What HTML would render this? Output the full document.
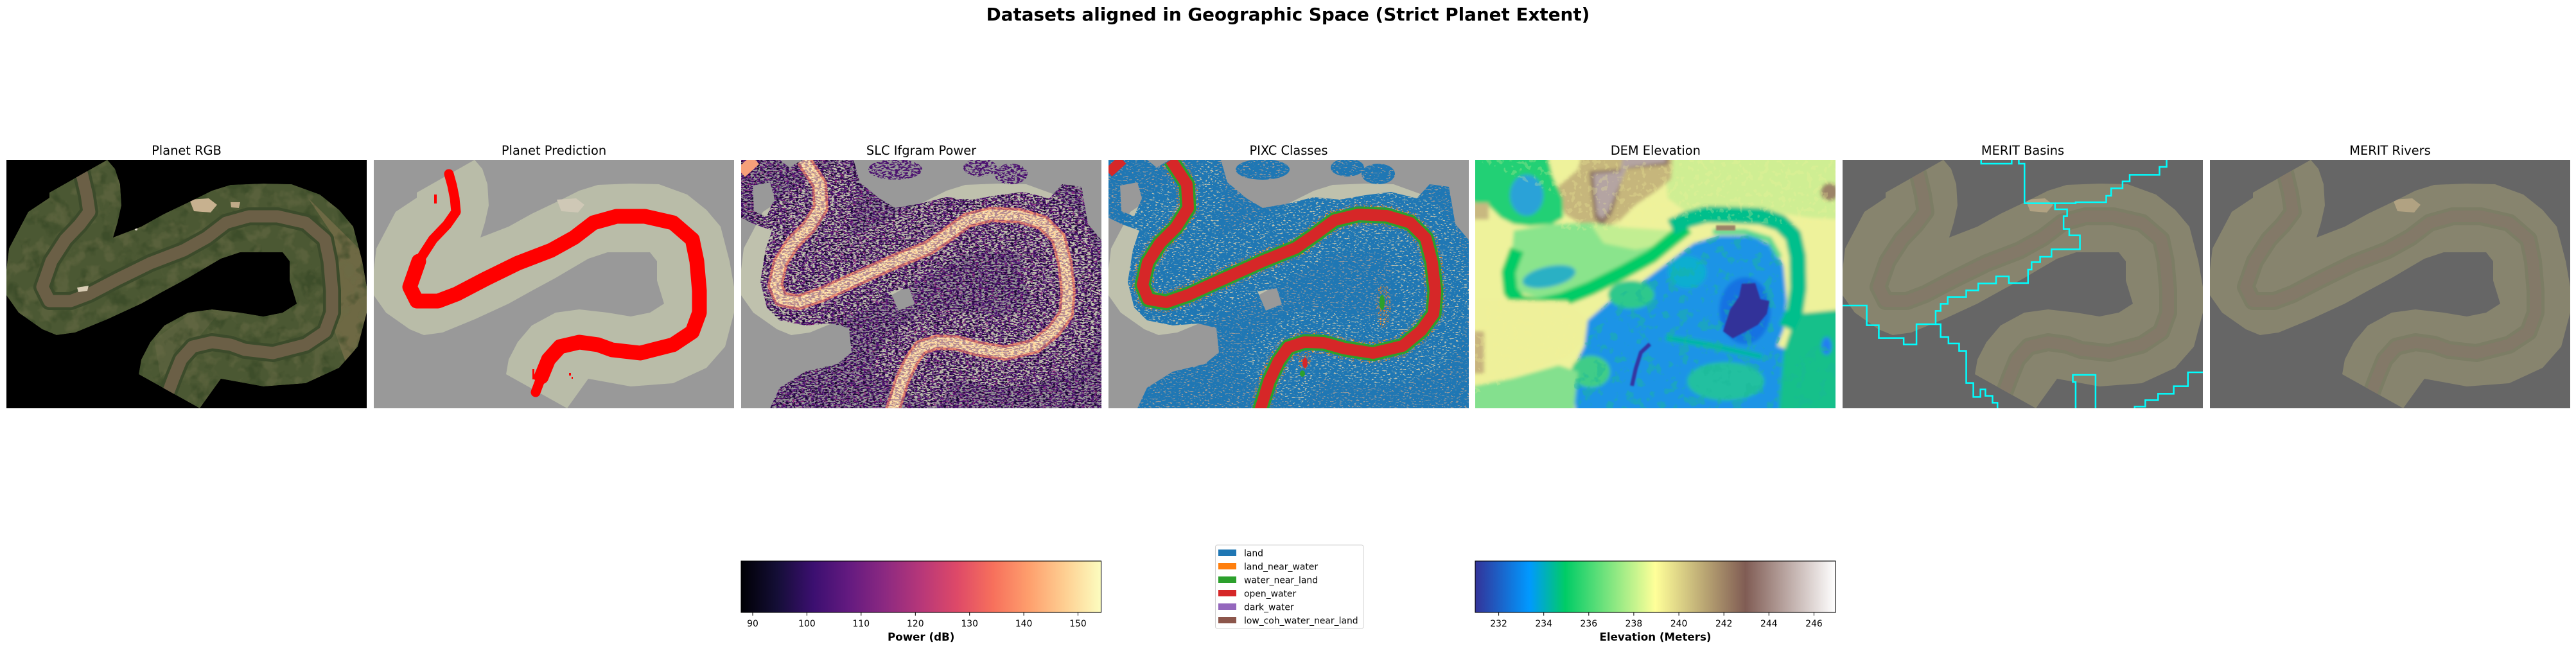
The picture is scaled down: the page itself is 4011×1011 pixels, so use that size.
<!DOCTYPE html>
<html>
<head>
<meta charset="utf-8">
<style>
html,body{margin:0;padding:0;background:#fff;}
svg{display:block}
</style>
</head>
<body>
<svg xmlns="http://www.w3.org/2000/svg" width="4011" height="1011" viewBox="0 0 4011 1011" font-family="'DejaVu Sans', 'Liberation Sans', sans-serif">
<defs>
  <clipPath id="pc"><rect x="0" y="0" width="561" height="387"/></clipPath>
  <clipPath id="fpc"><path d="M157,0 L169,14 L177,38 L179,71 L173,98 L166,121 L210,104 L246,84 L290,63 L320,48 L349,39 L400,37 L444,38 L488,54 L518,78 L540,104 L554,158 L561,198 L561,238 L547,291 L518,324 L466,348 L400,353 L334,341 L301,387 L206,334 L210,311 L224,284 L246,258 L283,238 L320,233 L364,238 L400,244 L430,238 L452,224 L441,188 L441,158 L430,144 L400,144 L364,144 L334,154 L305,171 L283,184 L246,204 L210,224 L158,248 L107,269 L78,273 L56,264 L19,238 L0,211 L0,171 L4,138 L34,81 L67,59 L67,51 Z"/></clipPath>
  <path id="fp" d="M157,0 L169,14 L177,38 L179,71 L173,98 L166,121 L210,104 L246,84 L290,63 L320,48 L349,39 L400,37 L444,38 L488,54 L518,78 L540,104 L554,158 L561,198 L561,238 L547,291 L518,324 L466,348 L400,353 L334,341 L301,387 L206,334 L210,311 L224,284 L246,258 L283,238 L320,233 L364,238 L400,244 L430,238 L452,224 L441,188 L441,158 L430,144 L400,144 L364,144 L334,154 L305,171 L283,184 L246,204 L210,224 L158,248 L107,269 L78,273 L56,264 L19,238 L0,211 L0,171 L4,138 L34,81 L67,59 L67,51 Z"/>
  <path id="rA" fill="none" d="M113,6 L118,24 L125,54 L129,81 L114,101 L92,124 L70,158 L56,198 L67,220 L100,220 L129,209 L173,186 L224,161 L276,141 L312,121 L342,98 L378,88 L422,88 L466,98 L496,124 L503,158 L507,204 L507,238 L496,268 L466,288 L415,301 L371,296 L349,288 L320,284 L290,291 L272,311 L261,338 L252,362"/>
  <path id="rB" fill="none" d="M97,0 L122,38 L124,75 L105,105 L80,130 L61,160 L53,195 L62,217 L90,222 L125,210 L180,185 L240,158 L292,137 L322,116 L352,94 L389,85 L433,87 L470,98 L494,122 L504,160 L509,205 L506,240 L487,266 L458,290 L412,301 L367,294 L335,285 L305,284 L280,292 L265,313 L250,345 L236,390"/>
  <path id="cov" fill-rule="evenodd" d="M0,0 L60,0 L75,12 L95,0 L175,0 L185,35 L215,60 L240,75 L280,68 L320,58 L360,62 L400,55 L440,50 L480,60 L500,38 L530,42 L540,100 L561,125 L561,387 L45,387 L60,355 L100,330 L150,318 L172,300 L168,262 L140,255 L100,258 L60,250 L40,230 L30,190 L38,140 L48,110 L20,100 L0,90 Z M18,40 L45,35 L52,60 L40,88 L20,80 Z M232,205 L262,200 L270,225 L245,235 Z"/>

  <linearGradient id="magma" x1="0" y1="0" x2="1" y2="0">
    <stop offset="0" stop-color="#000004"/>
    <stop offset="0.1" stop-color="#140e36"/>
    <stop offset="0.2" stop-color="#3b0f70"/>
    <stop offset="0.3" stop-color="#641a80"/>
    <stop offset="0.4" stop-color="#8c2981"/>
    <stop offset="0.5" stop-color="#b73779"/>
    <stop offset="0.6" stop-color="#de4968"/>
    <stop offset="0.7" stop-color="#f7705c"/>
    <stop offset="0.8" stop-color="#fe9f6d"/>
    <stop offset="0.9" stop-color="#fecf92"/>
    <stop offset="1" stop-color="#fcfdbf"/>
  </linearGradient>
  <linearGradient id="terrain" x1="0" y1="0" x2="1" y2="0">
    <stop offset="0" stop-color="#333399"/>
    <stop offset="0.15" stop-color="#0099ff"/>
    <stop offset="0.25" stop-color="#00cc66"/>
    <stop offset="0.5" stop-color="#ffff99"/>
    <stop offset="0.75" stop-color="#805c54"/>
    <stop offset="1" stop-color="#ffffff"/>
  </linearGradient>

  <filter id="spkP" filterUnits="userSpaceOnUse" x="0" y="0" width="561" height="387" color-interpolation-filters="sRGB">
    <feTurbulence type="fractalNoise" baseFrequency="0.2 0.45" numOctaves="2" seed="5" result="n"/>
    <feColorMatrix in="n" type="matrix" values="0 0 0 0 0.30  0 0 0 0 0.07  0 0 0 0 0.44  18 0 0 0 -8.6"/>
    <feComposite in2="SourceAlpha" operator="in"/>
  </filter>
  <filter id="spkM" filterUnits="userSpaceOnUse" x="0" y="0" width="561" height="387" color-interpolation-filters="sRGB">
    <feTurbulence type="fractalNoise" baseFrequency="0.2 0.45" numOctaves="2" seed="11" result="n"/>
    <feColorMatrix in="n" type="matrix" values="0 0 0 0 0.58  0 0 0 0 0.16  0 0 0 0 0.5  18 0 0 0 -11.9"/>
    <feComposite in2="SourceAlpha" operator="in"/>
  </filter>
  <filter id="spkK" filterUnits="userSpaceOnUse" x="0" y="0" width="561" height="387" color-interpolation-filters="sRGB">
    <feTurbulence type="fractalNoise" baseFrequency="0.2 0.45" numOctaves="2" seed="23" result="n"/>
    <feColorMatrix in="n" type="matrix" values="0 0 0 0 0.1  0 0 0 0 0.03  0 0 0 0 0.2  18 0 0 0 -10.3"/>
    <feComposite in2="SourceAlpha" operator="in"/>
  </filter>
  <filter id="spkB" filterUnits="userSpaceOnUse" x="0" y="0" width="561" height="387" color-interpolation-filters="sRGB">
    <feTurbulence type="fractalNoise" baseFrequency="0.22 0.5" numOctaves="2" seed="7" result="n"/>
    <feColorMatrix in="n" type="matrix" values="0 0 0 0 0.122  0 0 0 0 0.467  0 0 0 0 0.706  18 0 0 0 -5.9"/>
    <feComposite in2="SourceAlpha" operator="in"/>
  </filter>
  <filter id="spkO" filterUnits="userSpaceOnUse" x="0" y="0" width="561" height="387" color-interpolation-filters="sRGB">
    <feTurbulence type="fractalNoise" baseFrequency="0.35 0.7" numOctaves="2" seed="17" result="n"/>
    <feColorMatrix in="n" type="matrix" values="0 0 0 0 1  0 0 0 0 0.5  0 0 0 0 0.055  16 0 0 0 -9.4"/>
    <feComposite in2="SourceAlpha" operator="in"/>
  </filter>
  <filter id="spkY" filterUnits="userSpaceOnUse" x="0" y="0" width="561" height="387" color-interpolation-filters="sRGB">
    <feTurbulence type="fractalNoise" baseFrequency="0.35 0.7" numOctaves="2" seed="31" result="n"/>
    <feColorMatrix in="n" type="matrix" values="0 0 0 0 0.99  0 0 0 0 0.96  0 0 0 0 0.75  16 0 0 0 -8.4"/>
    <feComposite in2="SourceAlpha" operator="in"/>
  </filter>
  <filter id="spkD" filterUnits="userSpaceOnUse" x="0" y="0" width="561" height="387" color-interpolation-filters="sRGB">
    <feTurbulence type="fractalNoise" baseFrequency="0.12 0.12" numOctaves="2" seed="41" result="n"/>
    <feColorMatrix in="n" type="matrix" values="0 0 0 0 0.95  0 0 0 0 0.95  0 0 0 0 0.6  14 0 0 0 -8"/>
    <feComposite in2="SourceAlpha" operator="in"/>
  </filter>
  <filter id="spkG" filterUnits="userSpaceOnUse" x="0" y="0" width="561" height="387" color-interpolation-filters="sRGB">
    <feTurbulence type="fractalNoise" baseFrequency="0.06 0.06" numOctaves="3" seed="51" result="n"/>
    <feColorMatrix in="n" type="matrix" values="0 0 0 0 0.1  0 0 0 0 0.72  0 0 0 0 0.6  8 0 0 0 -4.4"/>
    <feComposite in2="SourceAlpha" operator="in"/>
  </filter>
  <filter id="motD" filterUnits="userSpaceOnUse" x="0" y="0" width="561" height="387" color-interpolation-filters="sRGB">
    <feTurbulence type="fractalNoise" baseFrequency="0.035" numOctaves="3" seed="2" result="n"/>
    <feColorMatrix in="n" type="matrix" values="0 0 0 0 0.2  0 0 0 0 0.27  0 0 0 0 0.14  5 0 0 0 -2.7"/>
    <feComposite in2="SourceAlpha" operator="in"/>
  </filter>
  <filter id="motL" filterUnits="userSpaceOnUse" x="0" y="0" width="561" height="387" color-interpolation-filters="sRGB">
    <feTurbulence type="fractalNoise" baseFrequency="0.04" numOctaves="3" seed="9" result="n"/>
    <feColorMatrix in="n" type="matrix" values="0 0 0 0 0.42  0 0 0 0 0.43  0 0 0 0 0.28  5 0 0 0 -2.5"/>
    <feComposite in2="SourceAlpha" operator="in"/>
  </filter>
  <filter id="blr" filterUnits="userSpaceOnUse" x="-40" y="-40" width="641" height="467">
    <feGaussianBlur stdDeviation="3"/>
  </filter>
  <filter id="blr1" filterUnits="userSpaceOnUse" x="-40" y="-40" width="641" height="467">
    <feGaussianBlur stdDeviation="1"/>
  </filter>
</defs>

<rect x="0" y="0" width="4011" height="1011" fill="#ffffff"/>

<!-- Suptitle -->
<text x="2005.5" y="32" font-size="27.8" font-weight="bold" text-anchor="middle" fill="#000">Datasets aligned in Geographic Space (Strict Planet Extent)</text>

<!-- Panel titles -->
<g font-size="19.4" text-anchor="middle" fill="#000">
  <text x="290.5" y="241">Planet RGB</text>
  <text x="862.5" y="241">Planet Prediction</text>
  <text x="1434.5" y="241">SLC Ifgram Power</text>
  <text x="2006.5" y="241">PIXC Classes</text>
  <text x="2577.8" y="241">DEM Elevation</text>
  <text x="3149.5" y="241">MERIT Basins</text>
  <text x="3721.5" y="241">MERIT Rivers</text>
</g>

<!-- Panel 1: Planet RGB -->
<g transform="translate(10,249)" clip-path="url(#pc)">
  <rect width="561" height="387" fill="#000"/>
  <g clip-path="url(#fpc)">
    <use href="#fp" fill="#4b5833"/>
    <path d="M470,60 L561,150 L561,260 L530,320 L505,250 L510,120 Z" fill="#746c48" opacity="0.85"/>
    <path d="M230,280 L300,230 L330,240 L280,300 L240,340 Z" fill="#5e6440" opacity="0.7"/>
    <use href="#fp" fill="#000" filter="url(#motD)" opacity="0.55"/>
    <use href="#fp" fill="#000" filter="url(#motL)" opacity="0.45"/>
    <use href="#rA" stroke="#3c4b2b" stroke-width="28" stroke-linejoin="round" stroke-linecap="round"/>
    <use href="#rA" stroke="#6b5f46" stroke-width="19" stroke-linejoin="round" stroke-linecap="round"/>
    <path d="M285,62 L315,60 L328,70 L318,82 L292,80 Z" fill="#c7b18f"/>
    <path d="M349,66 L364,66 L362,75 L350,74 Z" fill="#c0aa88"/>
    <path d="M110,199 L128,196 L126,204 L112,206 Z" fill="#d8ccb4"/>
    <circle cx="202" cy="108" r="2" fill="#e0d8c8"/>
  </g>
</g>

<!-- Panel 2: Planet Prediction -->
<g transform="translate(582,249)" clip-path="url(#pc)">
  <rect width="561" height="387" fill="#999999"/>
  <use href="#fp" fill="#b9bca8"/>
  <path d="M285,62 L315,60 L328,70 L318,82 L292,80 Z" fill="#cfc8b6"/>
  <path d="M117,22 L122,40 L126,60 L128,81 L114,101 L92,124 L70,158" fill="none" stroke="#ff0000" stroke-width="15" stroke-linejoin="round" stroke-linecap="round"/>
  <path d="M70,158 L56,198 L67,220 L100,220 L129,209 L173,186 L224,161 L276,141 L312,121 L342,98 L378,88 L422,88 L466,98 L496,124 L503,158 L507,204 L507,238 L496,268 L466,288 L415,301 L371,296 L349,288 L320,284 L290,291 L272,311 L261,338" fill="none" stroke="#ff0000" stroke-width="23" stroke-linejoin="round" stroke-linecap="round"/>
  <path d="M261,338 L252,362" fill="none" stroke="#ff0000" stroke-width="15" stroke-linecap="round"/>
  <rect x="94" y="54" width="4" height="14" fill="#ff0000"/>
  <rect x="247" y="326" width="3" height="16" fill="#ff0000"/>
  <rect x="304" y="332" width="3" height="4" fill="#ff0000"/>
  <rect x="308" y="338" width="2" height="3" fill="#ff0000"/>
</g>

<!-- Panel 3: SLC Ifgram Power -->
<g transform="translate(1154,249)" clip-path="url(#pc)">
  <rect width="561" height="387" fill="#999999"/>
  <use href="#fp" fill="#bfc1ad"/>
  <g filter="url(#spkP)">
    <use href="#cov" fill="#000"/>
    <ellipse cx="240" cy="15" rx="42" ry="16" fill="#000"/>
    <ellipse cx="372" cy="12" rx="26" ry="14" fill="#000"/>
    <ellipse cx="420" cy="22" rx="26" ry="16" fill="#000"/>
  </g>
  <g filter="url(#spkK)">
    <use href="#cov" fill="#000"/>
  </g>
  <g filter="url(#spkM)">
    <use href="#cov" fill="#000"/>
    <ellipse cx="430" cy="228" rx="22" ry="38" fill="#000"/>
    <ellipse cx="430" cy="228" rx="14" ry="28" fill="#000"/>
  </g>
  <use href="#rB" stroke="#f28a6c" stroke-width="24" stroke-linejoin="round" opacity="0.9"/>
  <use href="#rB" stroke="#fdd29c" stroke-width="16" stroke-linejoin="round"/>
  <path d="M0,20 L22,0" stroke="#f6a07a" stroke-width="18" fill="none"/>
  <g filter="url(#spkY)">
    <use href="#rB" stroke="#000" stroke-width="14" stroke-linejoin="round"/>
  </g>
  <g filter="url(#spkP)" opacity="0.4">
    <use href="#rB" stroke="#000" stroke-width="28" stroke-linejoin="round"/>
  </g>
</g>

<!-- Panel 4: PIXC Classes -->
<g transform="translate(1726,249)" clip-path="url(#pc)">
  <rect width="561" height="387" fill="#999999"/>
  <use href="#fp" fill="#bfc1ad"/>
  <g filter="url(#spkB)">
    <use href="#cov" fill="#000"/>
    <ellipse cx="240" cy="15" rx="42" ry="16" fill="#000"/>
    <ellipse cx="372" cy="12" rx="26" ry="14" fill="#000"/>
    <ellipse cx="420" cy="22" rx="26" ry="16" fill="#000"/>
  </g>
  <g filter="url(#spkO)">
    <use href="#rB" stroke="#000" stroke-width="34" stroke-linejoin="round"/>
    <ellipse cx="428" cy="228" rx="12" ry="34" fill="#000"/>
    <ellipse cx="305" cy="310" rx="10" ry="18" fill="#000"/>
  </g>
  <use href="#rB" stroke="#2ca02c" stroke-width="25" stroke-linejoin="round"/>
  <use href="#rB" stroke="#d62728" stroke-width="18" stroke-linejoin="round"/>
  <path d="M0,20 L22,0" stroke="#d62728" stroke-width="16" fill="none"/>
  <ellipse cx="426" cy="222" rx="4" ry="12" fill="#2ca02c"/>
  <ellipse cx="306" cy="316" rx="4" ry="8" fill="#d62728"/>
  <ellipse cx="302" cy="333" rx="4" ry="5" fill="#2ca02c"/>
</g>

<!-- Panel 5: DEM Elevation -->
<g transform="translate(2297,249)" clip-path="url(#pc)">
  <g filter="url(#blr)">
    <rect x="-40" y="-40" width="641" height="467" fill="#eef29b"/>
    <path d="M290,-40 H601 V95 L520,90 L470,82 L400,75 L330,82 L300,60 Z" fill="#cfee93"/>
    <ellipse cx="552" cy="50" rx="14" ry="14" fill="#9c8468"/>
    <path d="M125,45 L160,15 L175,-40 H310 L305,30 L280,50 L250,70 L225,95 L195,108 L165,100 L140,85 Z" fill="#c6b67c"/>
    <path d="M178,18 L228,14 L232,-40 H305 L300,8 L232,14 L222,55 L212,85 L198,102 L186,92 L182,60 Z" fill="#8c7262"/>
    <path d="M184,22 L226,18 L236,-40 H300 L296,4 L236,12 L218,55 L208,80 L198,92 L190,85 L187,60 Z" fill="#b4a4a2"/>
    <path d="M-40,-40 H105 L120,25 L136,60 L137,90 L120,100 L85,103 L60,100 L40,90 L20,70 L-40,60 Z" fill="#22d074"/>
    <ellipse cx="80" cy="55" rx="26" ry="32" fill="#2aa2d8"/>
    <path d="M-40,67 L21,67 L21,93 L-40,93 Z" fill="#c8b880"/>
    <path d="M60,110 L120,100 L180,98 L230,105 L300,110 L330,110 L300,140 L250,165 L200,188 L150,205 L100,215 L65,205 L55,170 Z" fill="#8ae48c"/>
    <path d="M180,100 L230,105 L300,110 L320,108 L300,130 L250,140 L200,130 Z" fill="#c2ee92"/>
    <ellipse cx="115" cy="182" rx="42" ry="16" fill="#2cb0c4" transform="rotate(-12 115 182)"/>
    <path d="M65,140 L52,175 L55,205 L70,222 L100,226 L135,218 L180,200 L230,175 L275,150 L305,125 L330,105" fill="none" stroke="#00cc66" stroke-width="22" stroke-linejoin="round"/>
    <path d="M160,427 L150,330 L170,290 L175,250 L215,215 L260,190 L300,160 L340,130 L380,118 L430,118 L465,135 L480,165 L485,220 L480,265 L470,290 L500,300 L601,280 L601,427 Z" fill="#1c94e6"/>
    <ellipse cx="243" cy="210" rx="36" ry="22" fill="#2ec88c"/>
    <ellipse cx="330" cy="175" rx="30" ry="25" fill="#10aed0"/>
    <ellipse cx="390" cy="345" rx="60" ry="30" fill="#20c0a0"/>
    <ellipse cx="180" cy="330" rx="30" ry="25" fill="#40cc88"/>
    <path d="M500,240 L601,230 L601,427 L470,427 L480,300 Z" fill="#18c08a"/>
    <ellipse cx="547" cy="290" rx="8" ry="14" fill="#2080f0"/>
    <path d="M-40,217 L143,220 L172,247 L168,283 L143,307 L107,320 L72,333 L36,350 L-40,367 Z" fill="#eef09a"/>
    <path d="M-40,360 L60,340 L130,320 L160,330 L150,427 L-40,427 Z" fill="#84e08e"/>
    <path d="M-40,267 L14,267 L14,333 L-40,333 Z" fill="#c8b47e"/>
    <path d="M297,277 L358,287 L447,307" fill="none" stroke="#00b8a0" stroke-width="9"/>
    <path d="M305,105 L330,93 L360,85 L400,86 L445,88 L475,98 L495,118 L502,150 L503,200 L498,235 L485,262" fill="none" stroke="#00bf8c" stroke-width="26" stroke-linejoin="round"/>
    <path d="M370,112 L420,112 L458,124 L474,152" fill="none" stroke="#5cd890" stroke-width="9"/>
    <ellipse cx="420" cy="235" rx="40" ry="52" fill="#1572e2"/>
  </g>
  <g filter="url(#spkD)" opacity="0.25">
    <path d="M0,0 H561 V110 L480,100 L320,95 L200,110 L130,110 L140,60 Z" fill="#000"/>
    <path d="M0,217 L143,220 L172,247 L168,283 L143,307 L107,320 L0,367 Z" fill="#000"/>
  </g>
  <g filter="url(#spkG)" opacity="0.45">
    <path d="M160,387 L150,330 L170,290 L175,250 L215,215 L260,190 L300,160 L340,130 L380,118 L430,118 L465,135 L480,165 L485,220 L480,265 L470,290 L500,300 L561,280 L561,387 Z" fill="#000"/>
  </g>
  <g filter="url(#blr1)">
    <path d="M415,193 L436,192 L444,217 L458,220 L454,240 L440,257 L422,267 L401,278 L386,267 L397,233 L411,213 Z" fill="#333399"/>
    <path d="M244,352 L250,325 L258,300 L272,287" fill="none" stroke="#3535a0" stroke-width="6"/>
    <rect x="375" y="102" width="30" height="8" fill="#9c8468"/>
  </g>
</g>

<!-- Panel 6: MERIT Basins -->
<g transform="translate(2869,249)" clip-path="url(#pc)">
  <rect width="561" height="387" fill="#666666"/>
  <use href="#fp" fill="#87846e"/>
  <g clip-path="url(#fpc)">
    <use href="#rA" stroke="#7c7d65" stroke-width="28" stroke-linejoin="round"/>
    <use href="#rA" stroke="#837968" stroke-width="18" stroke-linejoin="round"/>
    <path d="M285,62 L315,60 L328,70 L318,82 L292,80 Z" fill="#b1a282"/>
  </g>
  <g transform="scale(1.1065,0.33333) translate(-534,-87)" fill="none" stroke="#00ffff">
    <path vector-effect="non-scaling-stroke" stroke-width="2.5" d="M729,80 V105 H772 V80"/>
    <path vector-effect="non-scaling-stroke" stroke-width="2.5" d="M782,80 V105 H790 V290 H833 V318 H850 V350 H845 V410 H853 V440 H868 V505 H828 V540 H812 V565 H800 V600 H795 V663 H768 V632 H750 V665 H725 V697 H708 V728 H682 V760 H672 V793 H665 V855 H638 V950 H620 V920 H585 V860 H568 V768 H520"/>
    <path vector-effect="non-scaling-stroke" stroke-width="2.5" d="M665,855 H672 V915 H683 V945 H698 V980 H708 V1130 H718 V1195 H728 V1160 H735 V1190 H745 V1222 H752 V1260"/>
    <path vector-effect="non-scaling-stroke" stroke-width="2.5" d="M990,80 V120 H980 V157 H938 V188 H928 V220 H912 V255 H905 V285 H862 V290 H833"/>
    <path vector-effect="non-scaling-stroke" stroke-width="2.5" d="M862,1260 V1125 H858 V1092 H890 V1260"/>
    <path vector-effect="non-scaling-stroke" stroke-width="2.5" d="M945,1260 V1240 H960 V1210 H978 V1180 H1000 V1145 H1020 V1080 H1050"/>
  </g>
</g>

<!-- Panel 7: MERIT Rivers -->
<g transform="translate(3441,249)" clip-path="url(#pc)">
  <rect width="561" height="387" fill="#666666"/>
  <use href="#fp" fill="#87846e"/>
  <g clip-path="url(#fpc)">
    <use href="#rA" stroke="#7c7d65" stroke-width="28" stroke-linejoin="round"/>
    <use href="#rA" stroke="#837968" stroke-width="18" stroke-linejoin="round"/>
    <path d="M285,62 L315,60 L328,70 L318,82 L292,80 Z" fill="#b1a282"/>
  </g>
</g>

<!-- Colorbar 1: Power -->
<rect x="1154" y="874" width="560.5" height="80" fill="url(#magma)" stroke="#000" stroke-width="1.1"/>
<g stroke="#000" stroke-width="1">
  <line x1="1172" y1="954" x2="1172" y2="959"/>
  <line x1="1256.4" y1="954" x2="1256.4" y2="959"/>
  <line x1="1340.8" y1="954" x2="1340.8" y2="959"/>
  <line x1="1425.3" y1="954" x2="1425.3" y2="959"/>
  <line x1="1509.7" y1="954" x2="1509.7" y2="959"/>
  <line x1="1594.1" y1="954" x2="1594.1" y2="959"/>
  <line x1="1678.5" y1="954" x2="1678.5" y2="959"/>
</g>
<g font-size="13.9" text-anchor="middle" fill="#000">
  <text x="1172" y="976">90</text>
  <text x="1256.4" y="976">100</text>
  <text x="1340.8" y="976">110</text>
  <text x="1425.3" y="976">120</text>
  <text x="1509.7" y="976">130</text>
  <text x="1594.1" y="976">140</text>
  <text x="1678.5" y="976">150</text>
</g>
<text x="1434.2" y="998" font-size="16.7" font-weight="bold" text-anchor="middle" fill="#000">Power (dB)</text>

<!-- Legend -->
<rect x="1892.5" y="849" width="230.5" height="130" rx="3" ry="3" fill="#ffffff" stroke="#d0d0d0" stroke-width="1"/>
<rect x="1897" y="856" width="28" height="10" fill="#1f77b4"/>
<rect x="1897" y="877" width="28" height="10" fill="#ff7f0e"/>
<rect x="1897" y="898" width="28" height="10" fill="#2ca02c"/>
<rect x="1897" y="919" width="28" height="10" fill="#d62728"/>
<rect x="1897" y="940" width="28" height="10" fill="#9467bd"/>
<rect x="1897" y="961" width="28" height="10" fill="#8c564b"/>
<g font-size="13.9" fill="#000">
  <text x="1937" y="866.5">land</text>
  <text x="1937" y="887.5">land_near_water</text>
  <text x="1937" y="908.5">water_near_land</text>
  <text x="1937" y="929.5">open_water</text>
  <text x="1937" y="950.5">dark_water</text>
  <text x="1937" y="971.5">low_coh_water_near_land</text>
</g>

<!-- Colorbar 2: Elevation -->
<rect x="2297" y="874" width="561" height="80" fill="url(#terrain)" stroke="#000" stroke-width="1.1"/>
<g stroke="#000" stroke-width="1">
  <line x1="2333.6" y1="954" x2="2333.6" y2="959"/>
  <line x1="2403.7" y1="954" x2="2403.7" y2="959"/>
  <line x1="2473.8" y1="954" x2="2473.8" y2="959"/>
  <line x1="2543.9" y1="954" x2="2543.9" y2="959"/>
  <line x1="2614.1" y1="954" x2="2614.1" y2="959"/>
  <line x1="2684.2" y1="954" x2="2684.2" y2="959"/>
  <line x1="2754.3" y1="954" x2="2754.3" y2="959"/>
  <line x1="2824.5" y1="954" x2="2824.5" y2="959"/>
</g>
<g font-size="13.9" text-anchor="middle" fill="#000">
  <text x="2333.6" y="976">232</text>
  <text x="2403.7" y="976">234</text>
  <text x="2473.8" y="976">236</text>
  <text x="2543.9" y="976">238</text>
  <text x="2614.1" y="976">240</text>
  <text x="2684.2" y="976">242</text>
  <text x="2754.3" y="976">244</text>
  <text x="2824.5" y="976">246</text>
</g>
<text x="2577.5" y="998" font-size="16.7" font-weight="bold" text-anchor="middle" fill="#000">Elevation (Meters)</text>
</svg>
</body>
</html>
